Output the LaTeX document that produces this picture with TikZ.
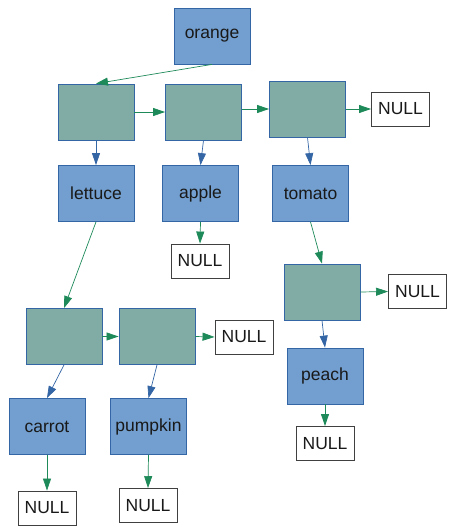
\documentclass[tikz,border=0pt]{standalone}
\usepackage{fontspec}
\setmainfont{Liberation Sans}
\usetikzlibrary{positioning}
\usetikzlibrary{arrows.meta}
\definecolor{itemblue}{HTML}{729FCF}
\definecolor{edgeblue}{HTML}{3465A4}
\definecolor{cellgreen}{HTML}{81ACA6}
\definecolor{linkgreen}{HTML}{1E8A5A}
\tikzset{item/.style={rectangle, draw=edgeblue, fill=itemblue, line width=0.8pt, minimum width=76pt, minimum height=56pt, inner sep=0pt, text=black!90, font=\fontsize{17.5}{20}\selectfont}}
\tikzset{cell/.style={rectangle, draw=edgeblue, fill=cellgreen, line width=0.8pt, minimum width=76pt, minimum height=56pt, inner sep=0pt}}
\tikzset{nil/.style={rectangle, draw=black!75, fill=white, line width=0.9pt, minimum width=58pt, minimum height=34pt, inner sep=0pt, text=black!90, font=\fontsize{17.5}{20}\selectfont}}
\tikzset{nextlink/.style={draw=linkgreen, line width=0.7pt, -{Triangle[length=12pt,width=8pt]}, color=linkgreen}}
\tikzset{datalink/.style={draw=edgeblue, line width=0.7pt, -{Triangle[length=12pt,width=8pt]}, color=edgeblue}}

\begin{document}
\begin{tikzpicture}[x=1pt, y=-1pt]
\useasboundingbox (0,0) rectangle (450,531);

\node[item] (orange) at (212,36) {orange};

\node[cell] (c1) at (96,112) {};
\node[cell] (c2) at (203.5,112) {};
\node[cell] (c3) at (307.5,109) {};
\node[nil] (n1) at (400.5,109) {NULL};

\node[item] (lettuce) at (96,193.5) {lettuce};
\node[item] (apple) at (200.5,193.5) {apple};
\node[item] (tomato) at (310.5,193.5) {tomato};
\node[nil] (n2) at (200,261) {NULL};

\node[cell] (c6) at (322,292) {};
\node[nil] (n3) at (417.5,291.5) {NULL};
\node[item] (peach) at (325,376) {peach};
\node[nil] (n4) at (325,443.5) {NULL};

\node[cell] (c4) at (64,336.5) {};
\node[cell] (c5) at (157,336.5) {};
\node[nil] (n5) at (244,337) {NULL};
\node[item] (carrot) at (47,426.5) {carrot};
\node[item] (pumpkin) at (148.5,426.5) {pumpkin};
\node[nil] (n6) at (47,508) {NULL};
\node[nil] (n7) at (148,505.5) {NULL};

% top list
\draw[nextlink] (orange.south) -- (c1.north);
\draw[nextlink] (c1.east) -- (c2.west);
\draw[nextlink] (c2.east |- c3.west) -- (c3.west);
\draw[nextlink] (c3.east) -- (n1.west);
\draw[datalink] (c1.south) -- (lettuce.north);
\draw[datalink] (c2.south) -- (apple.north);
\draw[datalink] (c3.south) -- (tomato.north);
\draw[nextlink] (apple.south) -- (n2.north);

% tomato list
\draw[nextlink] (tomato.south) -- (c6.north);
\draw[nextlink] (c6.east) -- (n3.west);
\draw[datalink] (c6.south) -- (peach.north);
\draw[nextlink] (peach.south) -- (n4.north);

% lettuce list
\draw[nextlink] (lettuce.south) -- (c4.north);
\draw[nextlink] (c4.east) -- (c5.west);
\draw[nextlink] (c5.east) -- (n5.west);
\draw[datalink] (c4.south) -- (carrot.north);
\draw[datalink] (c5.south) -- (pumpkin.north);
\draw[nextlink] (carrot.south) -- (n6.north);
\draw[nextlink] (pumpkin.south) -- (n7.north);
\end{tikzpicture}
\end{document}
